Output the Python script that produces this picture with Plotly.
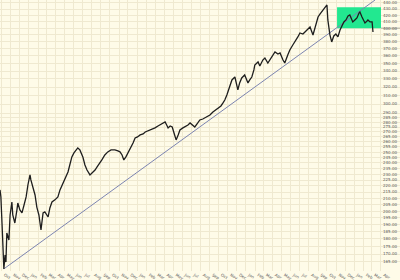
import plotly.graph_objects as go
import pandas as pd
import math

price_dates = [
    "2002-09-26", "2002-09-29", "2002-10-03", "2002-10-06", "2002-10-09", "2002-10-13", "2002-10-16",
    "2002-10-19", "2002-10-26", "2002-10-30", "2002-11-05", "2002-11-08", "2002-11-15", "2002-11-22",
    "2002-11-25", "2002-12-02", "2002-12-09", "2002-12-16", "2002-12-23", "2002-12-29", "2003-01-05",
    "2003-01-08", "2003-01-15", "2003-01-22", "2003-01-28", "2003-02-04", "2003-02-11", "2003-02-14",
    "2003-02-18", "2003-02-24", "2003-03-07", "2003-03-13", "2003-03-20", "2003-03-30", "2003-04-09",
    "2003-04-16", "2003-04-26", "2003-05-03", "2003-05-13", "2003-05-19", "2003-05-26", "2003-06-02",
    "2003-06-09", "2003-06-15", "2003-06-22", "2003-07-02", "2003-07-09", "2003-07-16", "2003-07-26",
    "2003-08-02", "2003-08-12", "2003-08-19", "2003-08-29", "2003-09-04", "2003-09-14", "2003-09-24",
    "2003-10-05", "2003-10-18", "2003-10-28", "2003-11-04", "2003-11-11", "2003-11-17", "2003-11-24",
    "2003-12-01", "2003-12-08", "2003-12-18", "2003-12-25", "2004-01-02", "2004-01-11", "2004-01-21",
    "2004-01-28", "2004-02-06", "2004-02-13", "2004-02-23", "2004-03-01", "2004-03-11", "2004-03-18",
    "2004-03-28", "2004-04-04", "2004-04-11", "2004-04-14", "2004-04-21", "2004-04-28", "2004-05-04",
    "2004-05-11", "2004-05-18", "2004-05-24", "2004-06-03", "2004-06-10", "2004-06-20", "2004-06-27",
    "2004-07-07", "2004-07-13", "2004-07-23", "2004-07-30", "2004-08-09", "2004-08-22", "2004-09-02",
    "2004-09-12", "2004-09-22", "2004-09-29", "2004-10-09", "2004-10-16", "2004-10-22", "2004-10-29",
    "2004-11-08", "2004-11-15", "2004-11-25", "2004-12-01", "2004-12-05", "2004-12-11", "2004-12-18",
    "2004-12-28", "2005-01-08", "2005-01-14", "2005-01-21", "2005-01-28", "2005-01-31", "2005-02-11",
    "2005-02-17", "2005-02-27", "2005-03-06", "2005-03-16", "2005-03-23", "2005-04-02", "2005-04-09",
    "2005-04-19", "2005-04-26", "2005-05-06", "2005-05-12", "2005-05-22", "2005-05-29", "2005-06-08",
    "2005-06-15", "2005-06-25", "2005-07-02", "2005-07-12", "2005-07-19", "2005-07-29", "2005-08-05",
    "2005-08-15", "2005-08-22", "2005-09-01", "2005-09-08", "2005-09-18", "2005-09-24", "2005-10-01",
    "2005-10-04", "2005-10-11", "2005-10-17", "2005-10-24", "2005-10-31", "2005-11-07", "2005-11-14",
    "2005-11-20", "2005-11-27", "2005-12-04", "2005-12-11", "2005-12-17", "2005-12-24", "2005-12-27",
    "2006-01-03", "2006-01-10", "2006-01-17", "2006-01-20", "2006-01-27", "2006-02-02", "2006-02-06",
    "2006-02-13", "2006-02-16", "2006-02-23", "2006-03-02", "2006-03-05",
]
price_values = [
    216.7, 211.0, 189.8, 172.6, 160.7, 169.4, 164.9,
    184.1, 179.3, 197.1, 207.0, 197.1, 191.2, 200.9,
    206.2, 200.9, 198.6, 204.7, 211.0, 220.8, 229.4,
    225.1, 219.1, 212.6, 203.1, 197.1, 186.2, 191.9,
    198.6, 199.4, 195.6, 202.4, 207.0, 208.7, 211.0,
    216.7, 222.5, 226.8, 232.0, 238.2, 245.6, 249.3,
    252.2, 254.1, 252.2, 245.6, 238.2, 233.7, 229.4,
    231.1, 233.7, 236.4, 240.0, 242.8, 247.4, 250.3,
    252.2, 252.2, 251.2, 250.3, 247.4, 242.8, 245.6,
    249.3, 252.2, 258.9, 263.9, 264.9, 266.9, 267.9,
    269.9, 271.0, 272.0, 273.0, 274.1, 276.1, 277.2,
    279.3, 280.3, 276.1, 274.1, 276.1, 275.1, 268.9,
    261.9, 266.9, 272.0, 274.1, 275.1, 277.2, 279.3,
    276.1, 275.1, 279.3, 282.5, 283.5, 285.7, 287.8,
    291.2, 293.4, 295.6, 297.9, 301.3, 304.7, 310.5,
    322.5, 328.7, 332.4, 322.5, 316.5, 325.0, 331.2,
    335.0, 325.0, 328.7, 332.4, 341.4, 347.9, 351.9,
    346.6, 354.5, 357.2, 350.5, 354.5, 361.3, 365.5,
    362.7, 364.1, 354.5, 350.5, 361.3, 368.2, 375.3,
    379.6, 386.9, 392.7, 391.2, 394.2, 398.7, 401.8,
    389.8, 400.3, 417.3, 422.1, 428.5, 431.7, 436.7,
    412.6, 389.8, 379.6, 388.3, 391.2, 386.9, 397.2,
    401.8, 409.5, 412.6, 418.8, 420.5, 414.1, 409.5,
    412.6, 415.7, 423.6, 425.3, 417.3, 412.6, 407.9,
    411.0, 412.6, 409.5, 409.5, 394.2,
]

trend_dates = ["2002-10-09", "2006-03-12"]
trend_values = [160.7, 445.0]

box_dates = ["2005-11-04", "2006-04-01"]
box_values = [400.0, 433.0]

month_labels = ["Oct", "Nov", "Dec", "Jan", "Feb", "Mar", "Apr", "May", "Jun", "Jul", "Aug", "Sep"] * 4
month_labels = month_labels[:43]
month_starts = pd.date_range("2002-10-01", "2006-04-01", freq="MS")

y_ticks = [440, 430, 420, 410, 400, 390, 380, 370, 360, 350, 340, 330, 320, 310, 300,
           290, 285, 280, 275, 270, 265, 260, 255, 250, 245, 240, 235, 230, 225, 220,
           215, 210, 205, 200, 195, 190, 185, 180, 175, 170, 165, 160]

x_range = ["2002-09-26", "2006-06-04"]
y_range = [159.4, 445.0]

BG = "#fefbe8"
GRID = "#efe9d0"
FONT = dict(family="DejaVu Sans", size=4, color="#5a5a5a")

fig = go.Figure()
fig.add_trace(go.Scatter(x=trend_dates, y=trend_values, mode="lines",
                         line=dict(color="#7c84b0", width=1), hoverinfo="skip"))
fig.add_trace(go.Scatter(x=price_dates, y=price_values, mode="lines",
                         line=dict(color="#1e1e1e", width=1.3)))

fig.add_shape(type="rect", xref="x", yref="y", x0=box_dates[0], x1=box_dates[1],
              y0=box_values[0], y1=box_values[1], fillcolor="#22e890",
              line=dict(width=0), layer="between")
fig.add_shape(type="line", xref="x", yref="y", x0=box_dates[1], x1=x_range[1],
              y0=box_values[0], y1=box_values[0], line=dict(color="#a0a096", width=0.8),
              layer="between")

fig.update_layout(
    width=400, height=280,
    margin=dict(l=0, r=0, t=0, b=9),
    paper_bgcolor=BG, plot_bgcolor=BG,
    showlegend=False,
    font=FONT,
)
fig.update_xaxes(
    type="date", range=x_range,
    tickmode="array", tickvals=month_starts, ticktext=month_labels,
    ticklabelshift=3, ticks="", tickfont=FONT,
    showgrid=True, gridcolor=GRID, gridwidth=1,
    zeroline=False, showline=False,
)
fig.update_yaxes(
    type="log", range=[math.log10(y_range[0]), math.log10(y_range[1])],
    side="right", ticklabelposition="inside",
    tickmode="array", tickvals=y_ticks, ticktext=[f"{v:.2f}" for v in y_ticks],
    ticks="", tickfont=FONT,
    showgrid=True, gridcolor=GRID, gridwidth=1,
    zeroline=False, showline=False,
)

fig.write_html("out.html")
